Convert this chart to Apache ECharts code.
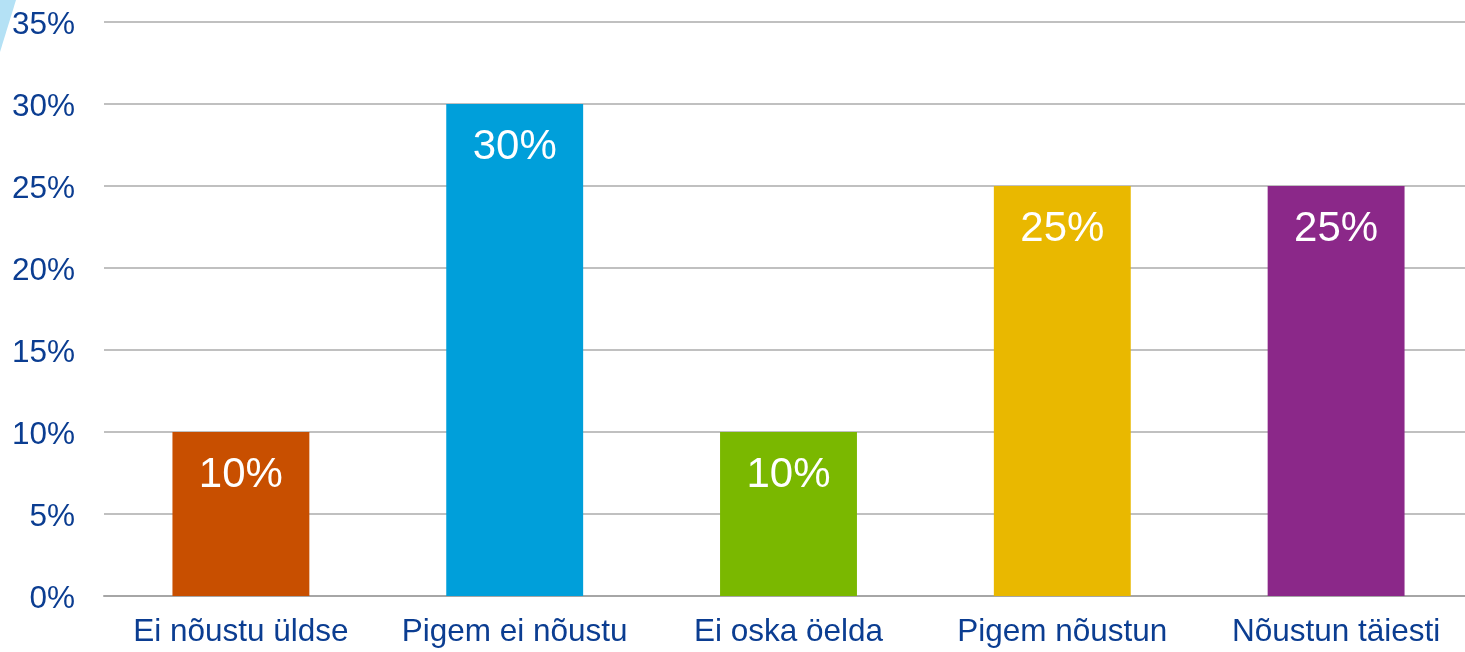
<!DOCTYPE html>
<html>
<head>
<meta charset="utf-8">
<script src="https://cdn.jsdelivr.net/npm/echarts@6/dist/echarts.min.js"></script>
<style>
html, body { margin: 0; padding: 0; background: #fff; }
#myChart { width: 1465px; height: 652px; }
</style>
</head>
<body>
<div id="myChart"></div>
<script>
// andmed
const categories = ['Ei nõustu üldse', 'Pigem ei nõustu', 'Ei oska öelda', 'Pigem nõustun', 'Nõustun täiesti']
const values = [10, 30, 10, 25, 25]
const barColors = ['#C84F00', '#009FDA', '#7AB800', '#E9B800', '#8B2889']

let myChart = echarts.init(document.getElementById('myChart'))

let option = {
    animation: false,
    textStyle: { fontFamily: 'Liberation Sans, Arial, sans-serif' },
    grid: {
        left: 104,
        right: -8,
        top: 22,
        bottom: 56,
        outerBoundsMode: 'none',
        containLabel: false
    },
    graphic: [
        {
            type: 'polygon',
            shape: { points: [[0, 0], [16, 0], [0, 52]] },
            style: { fill: '#B4E1F5' }
        }
    ],
    xAxis: {
        type: 'category',
        data: categories,
        axisTick: { show: false },
        axisLine: { lineStyle: { color: '#A6A6A6', width: 2 } },
        axisLabel: {
            color: '#0B3D91',
            fontSize: 31.5,
            margin: 20,
            interval: 0
        }
    },
    yAxis: {
        type: 'value',
        min: 0,
        max: 35,
        interval: 5,
        axisLabel: {
            color: '#0B3D91',
            fontSize: 31.5,
            margin: 29,
            formatter: (v) => '{a|' + v + '%}',
            rich: {
                a: {
                    color: '#0B3D91',
                    fontSize: 31.5,
                    padding: [6, 0, 0, 0]
                }
            }
        },
        splitLine: { lineStyle: { color: '#C0C0C0', width: 2 } }
    },
    series: [
        {
            type: 'bar',
            data: values.map((v, i) => ({ value: v, itemStyle: { color: barColors[i] } })),
            barWidth: '50%',
            label: {
                show: true,
                position: 'insideTop',
                distance: 22,
                color: '#fff',
                fontSize: 42,
                formatter: '{c}%'
            }
        }
    ]
}
myChart.setOption(option)

window.addEventListener('resize', () => {
    myChart.resize()
})
</script>
</body>
</html>
